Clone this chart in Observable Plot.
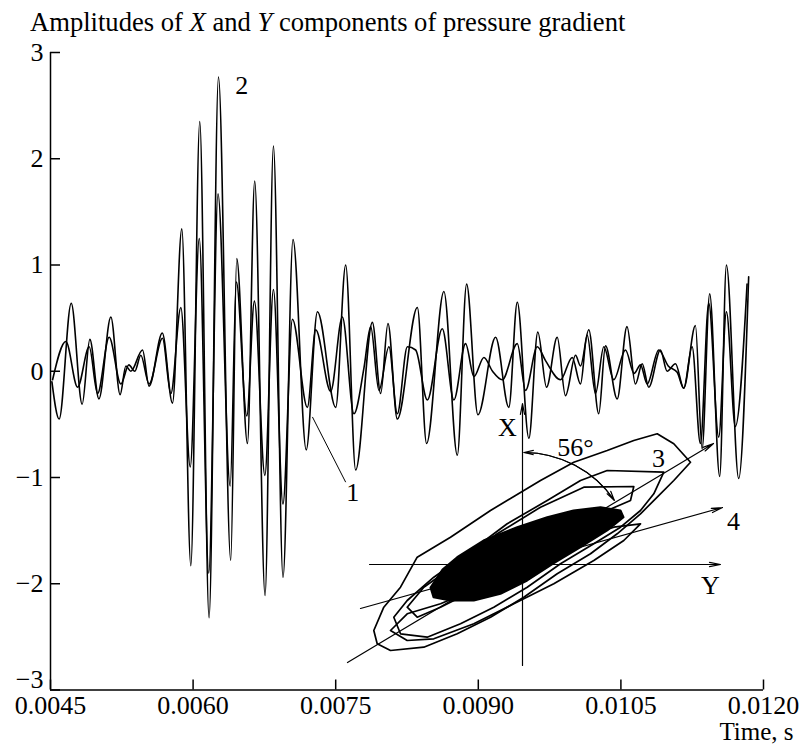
<!DOCTYPE html>
<html><head><meta charset="utf-8">
<script src="https://cdn.jsdelivr.net/npm/d3@7"></script>
<script src="https://cdn.jsdelivr.net/npm/@observablehq/plot@0.6"></script>
<style>
body{margin:0;background:#fff;}
#wrap{position:relative;width:802px;height:746px;font-family:"Liberation Serif","Times New Roman",serif;color:#000;}
#title{height:36px;box-sizing:border-box;padding:8px 0 0 30px;font-size:26.6px;line-height:28px;white-space:nowrap;}
#inset{position:absolute;left:330px;top:390px;}
</style></head><body>
<div id="wrap">
<div id="title">Amplitudes of <i>X</i> and <i>Y</i> components of pressure gradient</div>
<div id="main"></div>
<div id="inset"></div>
</div>
<script>
// ---- tick values ----
const xTicks = [0.0045, 0.0060, 0.0075, 0.0090, 0.0105, 0.0120];
const yTicks = [-3, -2, -1, 0, 1, 2, 3];

// ---- curve 1 (smaller amplitude) : time (s) and amplitude ----
const time1 = [0.004522,0.004662,0.004785,0.004907,0.004995,0.005117,0.005240,0.005324,0.005387,0.005450,0.005537,0.005678,0.005766,
  0.005871,0.005970,0.006065,0.006165,0.006262,0.006390,0.006455,0.006565,0.006645,0.006755,0.006845,0.006945,0.007045,0.007202,
  0.007290,0.007447,0.007570,0.007692,0.007797,0.007868,0.007955,0.008060,0.008148,0.008254,0.008341,0.008464,0.008621,0.008743,
  0.008866,0.008954,0.009059,0.009150,0.009252,0.009410,0.009497,0.009620,0.009707,0.009865,0.009988,0.010075,0.010145,0.010233,
  0.010320,0.010425,0.010548,0.010639,0.010706,0.010776,0.010898,0.010998,0.011092,0.011161,0.011249,0.011336,0.011424,0.011529,
  0.011610,0.011704,0.011827];
const amp1 = [-0.08,0.28,-0.15,0.23,-0.21,0.32,-0.12,0.06,0.00,0.15,-0.12,0.31,-0.21,
  0.60,-0.90,1.25,-1.90,1.67,-1.08,0.84,-0.42,0.66,-0.98,0.77,-1.25,0.49,-0.34,
  0.39,-0.19,0.51,-0.40,0.03,0.42,-0.18,0.23,-0.40,0.23,0.20,-0.27,0.40,-0.27,
  0.26,-0.05,0.13,0.00,-0.08,0.26,-0.18,0.23,0.10,-0.08,0.13,-0.12,0.34,-0.21,
  0.23,-0.08,0.20,-0.02,0.06,-0.12,0.20,0.05,-0.01,-0.16,0.23,-0.68,0.64,-0.62,
  0.56,-0.52,0.82];

// ---- curve 2 (larger amplitude) ----
const time2 = [0.004515,0.004591,0.004718,0.004833,0.004914,0.005009,0.005135,0.005232,0.005293,0.005345,0.005468,0.005537,0.005676,0.005783,
  0.005881,0.005976,0.006070,0.006168,0.006267,0.006396,0.006459,0.006572,0.006648,0.006757,0.006845,0.006946,0.007051,0.007190,
  0.007308,0.007500,0.007605,0.007710,0.007886,0.007973,0.008050,0.008148,0.008359,0.008456,0.008638,0.008779,0.008877,0.008996,
  0.009182,0.009321,0.009410,0.009532,0.009626,0.009718,0.009830,0.009917,0.010023,0.010075,0.010162,0.010267,0.010338,0.010461,
  0.010564,0.010653,0.010724,0.010793,0.010916,0.010986,0.011074,0.011161,0.011284,0.011354,0.011434,0.011539,0.011610,0.011739,0.011844];
const amp2 = [-0.10,-0.45,0.64,-0.31,0.30,-0.26,0.51,-0.22,0.05,0.00,0.20,-0.14,0.36,-0.30,
  1.34,-1.83,2.35,-2.32,2.77,-1.78,1.06,-0.68,1.79,-2.11,2.12,-1.94,1.24,-0.74,
  0.56,-0.34,1.00,-0.93,0.46,-0.21,0.45,-0.45,0.60,-0.68,0.75,-0.79,0.82,-0.41,
  0.32,-0.34,0.65,-0.63,0.37,-0.15,0.32,-0.23,0.15,0.05,0.39,-0.40,0.24,-0.26,
  0.42,-0.12,0.07,-0.15,0.20,0.00,0.07,-0.16,0.43,-0.73,0.73,-0.99,1.00,-1.01,0.89];

// ---- curve labels ----
const curveLabels = [
  {t: 0.007679, a: -1.14, text: "1", style: "italic"},
  {t: 0.006512, a: 2.69, text: "2", style: "normal"}
];
const leader = [{t1: 0.007255, a1: -0.43, t2: 0.007605, a2: -1.044}];

// ---- hodograph (inset): [Y component, X component] ----
const loopA = [[-2.974,-1.32],[-2.774,-0.854],[-2.44,-0.454],[-2.106,0.146],[-1.44,0.546],[-0.64,1.08],[0.36,1.68],[1.026,2.046],
  [1.694,2.28],[2.226,2.48],[2.694,2.614],[3.026,2.414],[3.36,2.046],[3.026,1.68],[2.694,1.346],[2.36,1.014],[1.894,0.614],
  [1.36,0.214],[0.694,-0.186],[0.026,-0.654],[-0.64,-1.054],[-1.306,-1.386],[-1.974,-1.654],[-2.64,-1.72],[-2.906,-1.586]];
const loopB = [[1.694,1.88],[2.826,1.846],[2.626,1.414],[2.36,1.08],[1.96,0.746],[1.426,0.414],[0.76,0.014],[0.094,-0.454],
  [-0.574,-0.854],[-1.24,-1.186],[-1.906,-1.454],[-2.44,-1.386],[-2.574,-1.054],[-2.306,-0.72],[-1.774,-0.254],[-1.106,0.214],
  [-0.306,0.814],[0.494,1.28],[1.16,1.68]];
const loopC = [[1.226,1.546],[2.226,1.56],[2.16,1.28],[1.694,1.08],[1.026,0.746],[0.36,0.346],[-0.306,-0.12],[-0.974,-0.52],
  [-1.64,-0.854],[-2.106,-1.054],[-2.306,-0.854],[-1.974,-0.454],[-1.306,0.014],[-0.506,0.614],[0.36,1.146]];
const loopD = [[-2.64,-1.32],[-2.306,-1.52],[-1.774,-1.486],[-0.974,-1.186],[-0.174,-0.786],[0.626,-0.386],[1.426,0.08],
  [2.026,0.48],[2.36,0.814],[1.826,0.746],[1.026,0.48],[0.094,0.014],[-0.84,-0.454],[-1.64,-0.786],[-2.306,-0.986]];
const core = [[-1.84,-0.46],[-1.6,-0.1],[-1.306,0.146],[-0.78,0.48],[-0.106,0.746],[0.494,0.946],[1.02,1.08],[1.56,1.146],
  [1.96,1.08],[2.02,0.946],[1.694,0.68],[1.16,0.346],[0.62,0.02],[0.094,-0.32],[-0.44,-0.586],[-0.974,-0.72],[-1.44,-0.72],[-1.78,-0.654]];

const FONT = '"Liberation Serif","Times New Roman",serif';
const W = 802, H = 710, mL = 50, mR = 39, mT = 16, mB = 56.5;
const plotW = W - mL - mR, plotH = H - mT - mB;

const s1 = time1.map((t, i) => ({t, a: amp1[i]}));
const s2 = time2.map((t, i) => ({t, a: amp2[i]}));
const minus = d => d < 0 ? "\u2212" + (-d) : String(d);

const main = Plot.plot({
  width: W, height: H,
  marginLeft: mL, marginRight: mR, marginTop: mT, marginBottom: mB,
  style: {fontFamily: FONT, fontSize: "26px", background: "transparent", color: "#000", overflow: "visible"},
  x: {domain: [0.0045, 0.0120]},
  y: {domain: [-3, 3]},
  marks: [
    Plot.line(s1, {x: "t", y: "a", curve: "monotone-x", stroke: "#000", strokeWidth: 1.6}),
    Plot.line(s2, {x: "t", y: "a", curve: "monotone-x", stroke: "#000", strokeWidth: 1.6}),
    Plot.link(leader, {x1: "t1", y1: "a1", x2: "t2", y2: "a2", stroke: "#000", strokeWidth: 1}),
    Plot.text(curveLabels, {x: "t", y: "a", text: "text", fontStyle: d => d.style, fill: "#000"}),
    Plot.ruleX([0.0045], {stroke: "#000", strokeWidth: 1.5}),
    Plot.ruleY([-3], {stroke: "#000", strokeWidth: 1.5}),
    Plot.tickX(xTicks, {x: d => d, insetTop: plotH - 10, stroke: "#000", strokeWidth: 1.5}),
    Plot.tickY(yTicks, {y: d => d, insetRight: plotW - 10, stroke: "#000", strokeWidth: 1.5}),
    Plot.axisX({ticks: xTicks, tickSize: 0, tickPadding: 6, tickFormat: d3.format(".4f"), label: null}),
    Plot.axisY({ticks: yTicks.filter(d => d > -3), tickSize: 0, tickPadding: 7, tickFormat: minus, label: null}),
    Plot.axisY({ticks: [-3], tickSize: 0, tickPadding: 7, dy: -10, tickFormat: minus, label: null}),
    Plot.text(["Time, s"], {frameAnchor: "bottom-right", dx: 30, dy: 50, fontSize: 25, textAnchor: "end", lineAnchor: "bottom", fill: "#000"})
  ]
});
document.getElementById("main").appendChild(main);

// ---- inset hodograph ----
const axesArrows = [
  {x1: 0, y1: -2.02, x2: 0, y2: 3.22},
  {x1: -3.06, y1: 0, x2: 3.96, y2: 0}
];
const dirArrows = [
  {x1: -3.5, y1: -1.96, x2: 3.82, y2: 2.42},
  {x1: -3.24, y1: -0.88, x2: 4.0, y2: 1.14}
];
const arcEnds = [{x1: 0.03, y1: 2.24, x2: 1.835, y2: 1.285}];
const insetLabels = [
  {u: -0.3, v: 2.74, text: "X", style: "italic"},
  {u: 3.76, v: -0.42, text: "Y", style: "italic"},
  {u: 1.06, v: 2.34, text: "56°", style: "normal"},
  {u: 2.72, v: 2.12, text: "3", style: "italic"},
  {u: 4.22, v: 0.86, text: "4", style: "italic"}
];
const loops = [loopA, loopB, loopC, loopD];

const inset = Plot.plot({
  width: 420, height: 290, margin: 0,
  style: {fontFamily: FONT, fontSize: "26px", background: "transparent", color: "#000", overflow: "visible"},
  x: {domain: [-3.84, 4.56], axis: null},
  y: {domain: [-2.32, 3.48], axis: null},
  marks: [
    Plot.line(core, {x: d => d[0], y: d => d[1], curve: "linear-closed", fill: "#000", stroke: "#000", strokeWidth: 2}),
    ...loops.map(L => Plot.line(L, {x: d => d[0], y: d => d[1], curve: "linear-closed", stroke: "#000", strokeWidth: 1.7})),
    Plot.arrow(axesArrows, {x1: "x1", y1: "y1", x2: "x2", y2: "y2", stroke: "#000", strokeWidth: 1.2, headLength: 14, headAngle: 22}),
    Plot.arrow(dirArrows, {x1: "x1", y1: "y1", x2: "x2", y2: "y2", stroke: "#000", strokeWidth: 1.2, headLength: 14, headAngle: 22}),
    Plot.arrow(arcEnds, {x1: "x1", y1: "y1", x2: "x2", y2: "y2", bend: 27.5, stroke: "#000", strokeWidth: 1.2, headLength: 12, headAngle: 26}),
    Plot.arrow(arcEnds, {x1: "x2", y1: "y2", x2: "x1", y2: "y1", bend: -27.5, stroke: "#000", strokeWidth: 1.2, headLength: 12, headAngle: 26}),
    Plot.text(insetLabels, {x: "u", y: "v", text: "text", fontStyle: d => d.style, fill: "#000"})
  ]
});
document.getElementById("inset").appendChild(inset);
</script>
</body></html>
